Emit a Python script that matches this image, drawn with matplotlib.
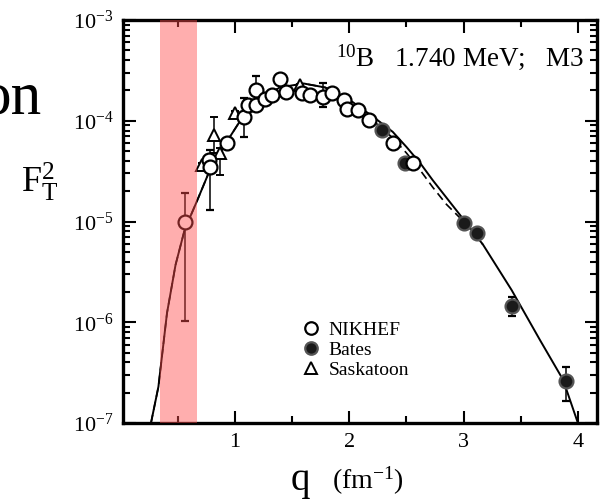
import numpy as np
import matplotlib
matplotlib.use('Agg')
import matplotlib.pyplot as plt
from matplotlib.lines import Line2D
from matplotlib.ticker import LogLocator, FixedLocator, NullFormatter

plt.rcParams['font.family'] = 'Liberation Serif'
plt.rcParams['mathtext.fontset'] = 'custom'
plt.rcParams['mathtext.rm'] = 'Liberation Serif'
plt.rcParams['mathtext.it'] = 'Liberation Serif:italic'

# NIKHEF (open circles)
nikhef_q = [0.56, 0.77, 0.78, 0.93, 1.08, 1.11, 1.18, 1.18, 1.26, 1.32, 1.39, 1.45,
            1.59, 1.66, 1.77, 1.85, 1.95, 1.98, 2.08, 2.17, 2.38, 2.56]
nikhef_f = [1.0e-5, 4.1e-5, 3.5e-5, 6.0e-5, 1.09e-4, 1.44e-4, 1.44e-4, 2.03e-4, 1.65e-4,
            1.81e-4, 2.59e-4, 1.94e-4, 1.90e-4, 1.81e-4, 1.73e-4, 1.90e-4, 1.62e-4,
            1.31e-4, 1.28e-4, 1.02e-4, 6.0e-5, 3.8e-5]
nikhef_lo = [1.02e-6, 3.6e-5, 1.29e-5, 5.5e-5, 6.9e-5, 1.4e-4, 1.4e-4, 1.9e-4, 1.6e-4,
             1.75e-4, 2.5e-4, 1.9e-4, 1.85e-4, 1.75e-4, 1.38e-4, 1.85e-4, 1.58e-4,
             1.27e-4, 1.24e-4, 0.98e-4, 5.8e-5, 3.7e-5]
nikhef_hi = [1.94e-5, 4.6e-5, 5.1e-5, 6.5e-5, 1.7e-4, 1.5e-4, 1.5e-4, 2.77e-4, 1.7e-4,
             1.87e-4, 2.7e-4, 2.0e-4, 1.95e-4, 1.87e-4, 2.36e-4, 1.95e-4, 1.66e-4,
             1.35e-4, 1.32e-4, 1.06e-4, 6.2e-5, 3.9e-5]

# Bates (filled circles)
bates_q = [2.29, 2.49, 3.00, 3.12, 3.42, 3.90]
bates_f = [8.1e-5, 3.8e-5, 9.7e-6, 7.7e-6, 1.45e-6, 2.6e-7]
bates_lo = [7.8e-5, 3.6e-5, 9.3e-6, 6.9e-6, 1.15e-6, 1.66e-7]
bates_hi = [8.4e-5, 4.0e-5, 1.01e-5, 8.5e-6, 1.8e-6, 3.6e-7]

# Saskatoon (open triangles)
sask_q = [0.71, 0.82, 0.87, 1.00, 1.57]
sask_f = [3.6e-5, 7.2e-5, 4.8e-5, 1.2e-4, 2.26e-4]
sask_lo = [3.4e-5, 4.8e-5, 2.9e-5, 1.15e-4, 2.2e-4]
sask_hi = [3.8e-5, 1.1e-4, 5.4e-5, 1.25e-4, 2.32e-4]

# theory curves (log10 F_T^2)
solid_q = [0.265, 0.33, 0.405, 0.48, 0.56, 0.67, 0.78, 0.91, 1.04, 1.2, 1.39, 1.6,
           1.79, 2.0, 2.22, 2.38, 2.5, 2.62, 2.73, 3.0, 3.17, 3.42, 3.67, 3.87, 4.0]
solid_lf = [-7.0, -6.64, -5.91, -5.43, -5.08, -4.79, -4.49, -4.24, -4.01, -3.81, -3.67,
            -3.63, -3.67, -3.79, -3.97, -4.11, -4.26, -4.42, -4.59, -4.98, -5.23,
            -5.68, -6.18, -6.57, -7.0]
dash_q = [0.265, 0.33, 0.405, 0.48, 0.56, 0.67, 0.78, 0.91, 1.04, 1.2, 1.39, 1.6,
          1.79, 2.0, 2.22, 2.38, 2.5, 2.62, 2.73, 2.85, 3.0, 3.17]
dash_lf = [-7.0, -6.64, -5.91, -5.43, -5.08, -4.79, -4.49, -4.24, -4.01, -3.81, -3.67,
           -3.63, -3.67, -3.80, -4.01, -4.17, -4.32, -4.49, -4.66, -4.83, -5.0, -5.23]

band = (0.34, 0.665)

fig = plt.figure(figsize=(6.07, 4.99), dpi=100)
ax = fig.add_axes([0.2026, 0.1523, 0.7809, 0.8076])

ax.plot(solid_q, 10 ** np.array(solid_lf), '-', color='black', lw=1.4, zorder=2)
ax.plot(dash_q, 10 ** np.array(dash_lf), '--', color='black', lw=1.2, dashes=(5, 3), zorder=2)

def yerr(f, lo, hi):
    f = np.array(f)
    return [f - np.array(lo), np.array(hi) - f]

ax.errorbar(nikhef_q, nikhef_f, yerr=yerr(nikhef_f, nikhef_lo, nikhef_hi), fmt='o',
            mfc='white', mec='black', mew=1.6, ms=10, ecolor='black', elinewidth=1.1,
            capsize=3, zorder=4)
ax.errorbar(bates_q, bates_f, yerr=yerr(bates_f, bates_lo, bates_hi), fmt='o',
            mfc='#1a1a1a', mec='#555555', mew=1.6, ms=10, ecolor='black', elinewidth=1.1,
            capsize=3, zorder=3)
ax.errorbar(sask_q, sask_f, yerr=yerr(sask_f, sask_lo, sask_hi), fmt='^',
            mfc='white', mec='black', mew=1.4, ms=9, ecolor='black', elinewidth=1.1,
            capsize=3, zorder=3)

ax.axvspan(band[0], band[1], color='#ff4d4d', alpha=0.45, lw=0, zorder=6)

ax.set_yscale('log')
ax.set_ylim(1e-7, 1e-3)
ax.set_xlim(0.02, 4.167)

ax.xaxis.set_major_locator(FixedLocator([1, 2, 3, 4]))
ax.xaxis.set_minor_locator(FixedLocator([0.5, 1.5, 2.5, 3.5]))
ax.yaxis.set_major_locator(LogLocator(base=10, numticks=10))
ax.yaxis.set_minor_locator(LogLocator(base=10, subs=np.arange(2, 10), numticks=20))
ax.yaxis.set_minor_formatter(NullFormatter())

ax.tick_params(which='both', direction='in', top=True, right=True, labelsize=16, width=1.5)
ax.tick_params(which='major', length=9, pad=7)
ax.tick_params(which='minor', length=5)
for s in ax.spines.values():
    s.set_linewidth(2.4)

ax.text(0.9726, 0.888, r'$^{10}$B   1.740 MeV;   M3', transform=ax.transAxes, ha='right',
        va='baseline', fontsize=19.5)

fig.text(0.035, 0.635, r'F$_{\rm T}^{2}$', fontsize=26, ha='left', va='center')
fig.text(0.478, 0.018, 'q', fontsize=28, ha='left', va='baseline')
fig.text(0.547, 0.02, r'(fm$^{-1}$)', fontsize=20, ha='left', va='baseline')
fig.text(0.069, 0.773, 'on', fontsize=44, ha='right', va='baseline')

leg_handles = [
    Line2D([], [], ls='none', marker='o', mfc='white', mec='black', mew=1.6, ms=9),
    Line2D([], [], ls='none', marker='o', mfc='#1a1a1a', mec='#555555', mew=1.6, ms=9),
    Line2D([], [], ls='none', marker='^', mfc='white', mec='black', mew=1.4, ms=9),
]
ax.legend(leg_handles, ['NIKHEF', 'Bates', 'Saskatoon'], loc='upper left',
          bbox_to_anchor=(0.48, 0.376), bbox_transform=fig.transFigure, frameon=False,
          fontsize=14, handlelength=1.0, handletextpad=0.4, labelspacing=0.12,
          borderpad=0)

fig.savefig('out.png', dpi=100)
